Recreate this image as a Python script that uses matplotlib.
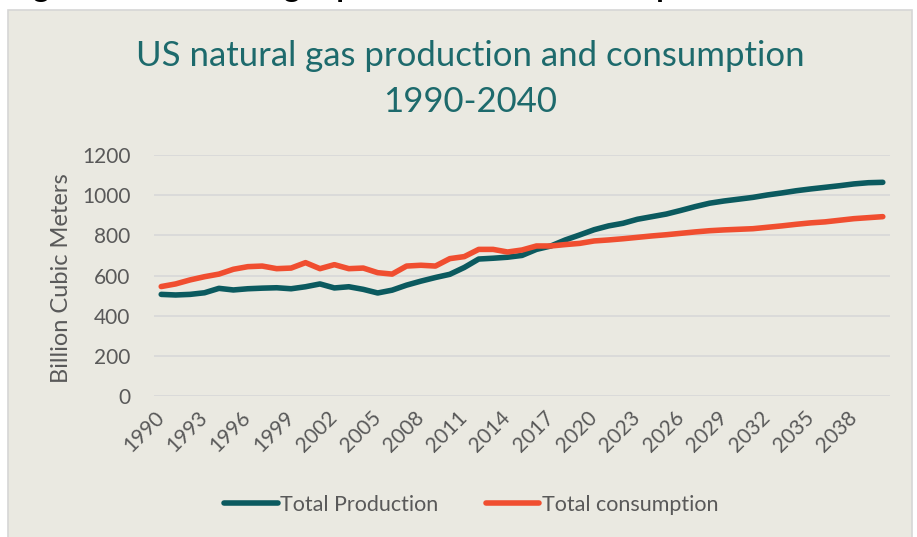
import matplotlib.pyplot as plt
from matplotlib.patches import Rectangle
from matplotlib.transforms import ScaledTranslation

plt.rcParams['font.family'] = ['Lato', 'DejaVu Sans']

# data (billion cubic meters)
years = list(range(1990, 2041))
production = [506, 503, 506, 514, 536, 528, 534, 537, 539, 534,
              544, 558, 538, 544, 531, 513, 527, 552, 572, 590,
              606, 640, 682, 686, 691, 700, 730, 747, 777, 802,
              828, 847, 860, 880, 893, 906, 924, 943, 960, 971,
              980, 989, 1001, 1011, 1022, 1031, 1039, 1047, 1056, 1062,
              1064]
consumption = [545, 558, 578, 594, 607, 631, 644, 647, 634, 637,
               664, 634, 654, 634, 637, 614, 607, 647, 651, 647,
               684, 694, 730, 730, 717, 727, 747, 747, 754, 760,
               772, 777, 783, 790, 797, 803, 810, 817, 823, 827,
               830, 833, 840, 847, 855, 862, 867, 875, 883, 888,
               893]
tick_years = list(range(1990, 2039, 3))
y_ticks = [0, 200, 400, 600, 800, 1000, 1200]

bg = '#EAE9E1'
teal = '#0B5A5F'
red = '#F04E30'
grey = '#595959'

fig = plt.figure(figsize=(9.17, 5.37), dpi=100, facecolor='white')

# chart frame (the screenshot starts a bit below the page heading)
fig.add_artist(Rectangle((8 / 917, -0.01), 0.995 - 8 / 917, 1 - 10 / 537 + 0.01,
                         transform=fig.transFigure, facecolor=bg,
                         edgecolor='#D6D6D6', linewidth=1.2, zorder=0))
# page heading, only its descenders show above the chart frame
fig.text(8 / 917, 1 + 3 / 537, 'Figure 3: US natural gas production and consumption',
         fontsize=22, fontweight='bold', color='black', va='baseline', ha='left')

ax = fig.add_axes([154 / 917, 1 - 396 / 537, 736 / 917, 241 / 537])
ax.set_facecolor(bg)
ax.patch.set_alpha(0)

ax.plot(years, production, color=teal, lw=4, solid_capstyle='round',
        solid_joinstyle='round', label='Total Production', zorder=3)
ax.plot(years, consumption, color=red, lw=4, solid_capstyle='round',
        solid_joinstyle='round', label='Total consumption', zorder=3)

ax.set_xlim(1989.5, 2040.5)
ax.set_ylim(0, 1200)
ax.set_yticks(y_ticks)
ax.yaxis.grid(True, color='#D9D9D9', lw=1.3, zorder=1)
ax.set_axisbelow(True)
for s in ax.spines.values():
    s.set_visible(False)

ax.tick_params(axis='y', length=0, pad=17, labelsize=15, labelcolor=grey)
ax.tick_params(axis='x', length=0, pad=8, labelsize=15, labelcolor=grey)
ax.set_xticks(tick_years)
ax.set_xticklabels([str(y) for y in tick_years], rotation=45, ha='right', va='top')
shift = ScaledTranslation(7 / 100, 0, fig.dpi_scale_trans)
for lbl in ax.get_xticklabels():
    lbl.set_transform(lbl.get_transform() + shift)

ax.set_ylabel('Billion Cubic Meters', fontsize=17, color=grey)
ax.yaxis.set_label_coords(-0.111, 0.49)

fig.text(470 / 917, 1 - 79 / 537, 'US natural gas production and consumption\n1990-2040',
         ha='center', va='center', fontsize=25, color='#1D6A6C', linespacing=1.5)

fig.legend(loc='center', bbox_to_anchor=(471 / 917, 1 - 505 / 537), ncol=2,
           frameon=False, fontsize=15.5, labelcolor=grey, handlelength=2.5,
           handletextpad=0.1, columnspacing=2.2)

fig.savefig('out.png', dpi=100, facecolor='white')
